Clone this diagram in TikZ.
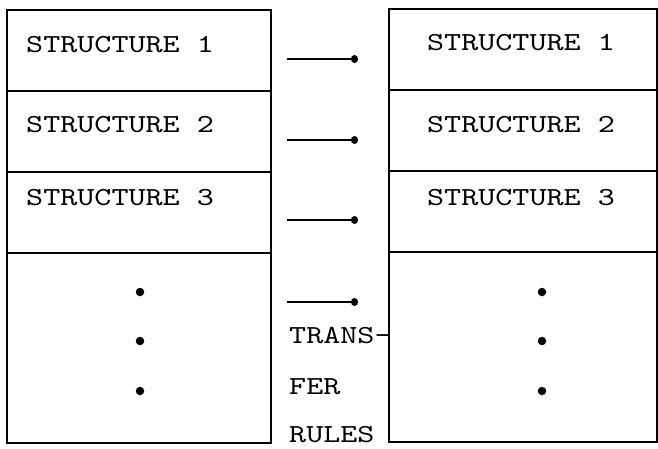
\documentclass[tikz,border=0pt]{standalone}
\usepackage{fontspec}
\newfontfamily\typer[FakeStretch=1.25]{lmmono10-regular.otf}
\usetikzlibrary{positioning, arrows.meta}

\begin{document}
\begin{tikzpicture}[x = 1pt, y = -1pt,
  cell/.style = {rectangle, draw, line width = 1.5pt, minimum width = 264pt, minimum height = 81pt, inner sep = 0pt, outer sep = 0pt},
  tall/.style = {cell, minimum height = 190pt},
  word/.style = {font = \typer\fontsize{26}{28}\selectfont, inner sep = 0pt},
  dot/.style = {circle, fill, inner sep = 0pt, minimum size = 8.5pt},
  rule/.style = {line width = 1.6pt, -{Circle[length = 7pt, width = 8pt]}}]
  \useasboundingbox (0,0) rectangle (658,448);

  % left column
  \node [cell, anchor = north west] (ls1) at (7,10) {};
  \node [cell, below = 0pt of ls1] (ls2) {};
  \node [cell, below = 0pt of ls2] (ls3) {};
  \node [tall, below = 0pt of ls3] (lrest) {};

  % right column
  \node [cell, minimum width = 268pt, anchor = north west] (rs1) at (389,9) {};
  \node [cell, minimum width = 268pt, below = 0pt of rs1] (rs2) {};
  \node [cell, minimum width = 268pt, below = 0pt of rs2] (rs3) {};
  \node [tall, minimum width = 268pt, below = 0pt of rs3] (rrest) {};

  % texts
  \node [word, anchor = west] (lt1) at (26,44.5) {STRUCTURE 1};
  \node [word, anchor = west] (lt2) at (26,124.5) {STRUCTURE 2};
  \node [word, anchor = west] (lt3) at (26,197.5) {STRUCTURE 3};
  \node [word] (rt1) at (521,42.5) {STRUCTURE 1};
  \node [word] (rt2) at (521,124.5) {STRUCTURE 2};
  \node [word] (rt3) at (521,197.5) {STRUCTURE 3};

  % dots
  \foreach \y [count = \i] in {292,341,391} {
    \node [dot] (ld\i) at (140,\y) {};
    \node [dot] (rd\i) at (542,\y) {};
  }

  % rules in the middle
  \foreach \y [count = \i] in {59,140,220,302} {
    \coordinate (from\i) at (287,\y);
    \coordinate (to\i) at (358,\y);
    \draw [rule] (from\i) -- (to\i);
  }
  \node [word, anchor = west] (tr1) at (289,336) {TRANS-};
  \node [word, anchor = west] (tr2) at (289,387) {FER};
  \node [word, anchor = west] (tr3) at (289,435) {RULES};
\end{tikzpicture}
\end{document}
